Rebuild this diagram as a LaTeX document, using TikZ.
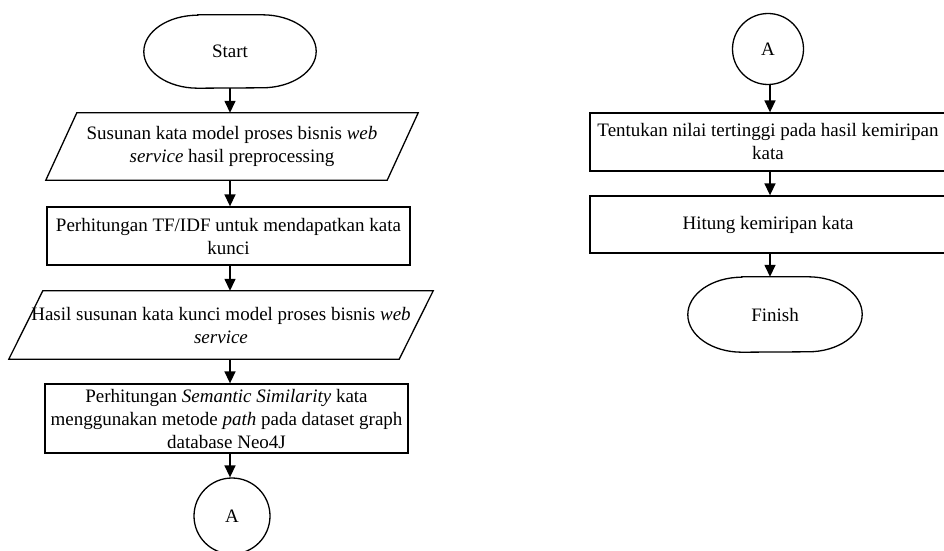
\documentclass[tikz,border=0pt]{standalone}
\usepackage{fontspec}
\setmainfont{Liberation Serif}
\usetikzlibrary{arrows.meta,calc}

% terminal (start/finish) outline with elliptical ends
\newcommand\termshape[1]{%
  \draw[shapeline] ([xshift=54pt]#1.north west) -- ([xshift=-54pt]#1.north east)
    arc[start angle=90,end angle=-90,x radius=54pt,y radius=0.5*\termh]
    -- ([xshift=54pt]#1.south west)
    arc[start angle=270,end angle=90,x radius=54pt,y radius=0.5*\termh] -- cycle;}
% slanted input/output outline
\newcommand\ioshape[2]{%
  \draw[shapeline] ([xshift=#2]#1.north west) -- ([xshift=#2]#1.north east)
    -- ([xshift=-#2]#1.south east) -- ([xshift=-#2]#1.south west) -- cycle;}

\begin{document}
\begin{tikzpicture}[x=1pt,y=1pt,
  every node/.style={font=\fontsize{19}{23}\selectfont, align=center, inner sep=0pt},
  shapeline/.style={draw=black, line width=1.3pt},
  procbox/.style={shapeline, rectangle},
  iobox/.style={rectangle},
  termbox/.style={rectangle},
  connbox/.style={shapeline, circle},
  flow/.style={draw=black, line width=1.5pt, -{Triangle[length=12pt,width=11pt]}}]
\useasboundingbox (0,0) rectangle (944,550);

% left column
\def\termh{73pt}
\node[termbox, minimum width=172pt, minimum height=73pt] (start) at (230,498.5) {Start};
\termshape{start}
\node[iobox, minimum width=341pt, minimum height=67pt] (in1) at (232,403.5)
  {Susunan kata model proses bisnis \textit{web}\\\textit{service} hasil preprocessing};
\ioshape{in1}{15.5pt}
\node[procbox, minimum width=363pt, minimum height=58pt] (tfidf) at (228.5,314)
  {Perhitungan TF/IDF untuk mendapatkan kata\\kunci};
\node[iobox, minimum width=390pt, minimum height=68pt] (in2) at (221,225)
  {Hasil susunan kata kunci model proses bisnis \textit{web}\\\textit{service}};
\ioshape{in2}{17pt}
\node[procbox, minimum width=363pt, minimum height=69pt] (sim) at (226.5,131.5)
  {Perhitungan \textit{Semantic Similarity} kata\\menggunakan metode \textit{path} pada dataset graph\\database Neo4J};
\node[connbox, minimum size=76pt] (conA) at (232,34) {A};

\draw[flow] (start.south) -- (in1.north -| start);
\draw[flow] (in1.south -| start) -- (tfidf.north -| start);
\draw[flow] (tfidf.south -| start) -- (in2.north -| start);
\draw[flow] (in2.south -| start) -- (sim.north -| start);
\draw[flow] (sim.south -| start) -- (conA.north -| start);

% right column
\node[connbox, minimum size=71pt] (conB) at (768,501) {A};
\node[procbox, minimum width=356pt, minimum height=58pt] (top) at (768,408)
  {Tentukan nilai tertinggi pada hasil kemiripan\\kata};
\node[procbox, minimum width=356pt, minimum height=57pt] (hit) at (768,325.5)
  {Hitung kemiripan kata};
\def\termh{75pt}
\node[termbox, minimum width=174pt, minimum height=75pt] (finish) at (775,235.5) {Finish};
\termshape{finish}

\coordinate (colR) at (770,0);
\draw[flow] (conB.south -| colR) -- (top.north -| colR);
\draw[flow] (top.south -| colR) -- (hit.north -| colR);
\draw[flow] (hit.south -| colR) -- (finish.north -| colR);
\end{tikzpicture}
\end{document}
